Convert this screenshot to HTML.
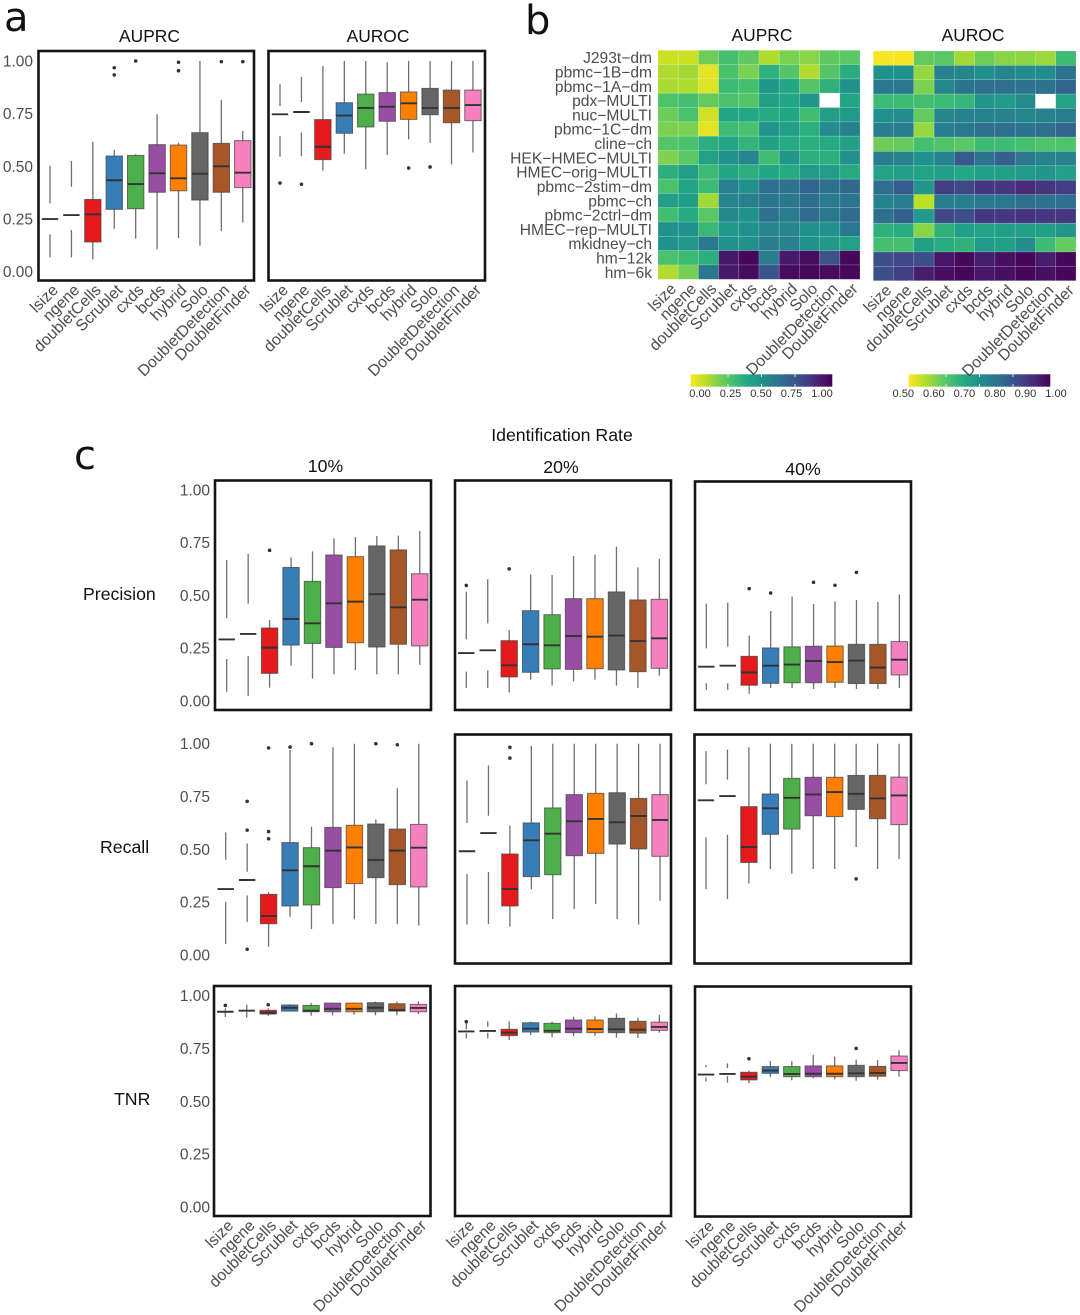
<!DOCTYPE html>
<html lang="en">
<head>
<meta charset="utf-8">
<title>Doublet detection benchmark</title>
<style>
html,body{margin:0;padding:0;background:#fff;width:1080px;height:1315px;overflow:hidden}
svg{display:block}
text{font-family:"Liberation Sans",sans-serif}
.dj{font-family:"DejaVu Sans",sans-serif}
.title{font-size:17.4px;fill:#111;text-anchor:middle}
.lab{font-size:17.7px;fill:#111}
.ytick{font-size:15.5px;fill:#4d4d4d;text-anchor:end}
.xtick{font-size:15.9px;fill:#4d4d4d;text-anchor:end}
.rowl{font-size:15.6px;fill:#4d4d4d;text-anchor:end}
.cb{font-size:11.1px;fill:#333;text-anchor:middle}
.letter{font-size:40px;fill:#111}
</style>
</head>
<body>
<svg id="figure" xmlns="http://www.w3.org/2000/svg" width="1080" height="1315" viewBox="0 0 1080 1315">
<defs>
<linearGradient id="viridisRev" x1="0" x2="1" y1="0" y2="0">
<stop offset="0" stop-color="#fde725"/><stop offset=".1" stop-color="#bddf26"/><stop offset=".2" stop-color="#7ad151"/><stop offset=".3" stop-color="#44bf70"/><stop offset=".4" stop-color="#22a884"/><stop offset=".5" stop-color="#21918c"/><stop offset=".6" stop-color="#2a788e"/><stop offset=".7" stop-color="#355f8d"/><stop offset=".8" stop-color="#414487"/><stop offset=".9" stop-color="#482475"/><stop offset="1" stop-color="#440154"/>
</linearGradient>
</defs>
<text class="letter dj" x="4" y="31">a</text>
<text class="letter dj" x="525" y="34">b</text>
<text class="letter dj" x="74" y="469">c</text>
<text class="title" x="149.5" y="42">AUPRC</text>
<text class="title" x="378" y="42">AUROC</text>
<text class="title" x="762" y="41">AUPRC</text>
<text class="title" x="973" y="41">AUROC</text>
<text class="lab" x="562" y="441" text-anchor="middle">Identification Rate</text>
<text class="lab" x="325.5" y="472" text-anchor="middle">10%</text>
<text class="lab" x="561" y="473" text-anchor="middle">20%</text>
<text class="lab" x="803" y="475" text-anchor="middle">40%</text>
<text class="lab" x="83" y="600">Precision</text>
<text class="lab" x="100" y="853">Recall</text>
<text class="lab" x="114" y="1105">TNR</text>
<rect x="690.7" y="374.3" width="141.6" height="12.4" fill="url(#viridisRev)"/>
<rect x="908.7" y="374.3" width="141.6" height="12.4" fill="url(#viridisRev)"/>
</svg>
<script>
const methods = ["lsize","ngene","doubletCells","Scrublet","cxds","bcds","hybrid","Solo","DoubletDetection","DoubletFinder"];
const methodColors = ["#ffffff","#ffffff","#e41a1c","#377eb8","#4daf4a","#984ea3","#ff7f00","#666666","#a65628","#f781bf"];
const yTicks = [0,0.25,0.5,0.75,1];
const yTickLabels = ["0.00","0.25","0.50","0.75","1.00"];

/* each row: low whisker, q1, median, q3, high whisker */
const auprcBox = [[.068,.177,.25,.324,.503],[.068,.198,.269,.403,.525],[.059,.141,.272,.343,.617],[.203,.296,.434,.549,.578],[.157,.299,.416,.552,.557],[.106,.377,.467,.603,.747],[.16,.384,.443,.601,.612],[.123,.34,.465,.66,1],[.193,.377,.5,.609,.815],[.233,.399,.47,.622,.668]];
const auprcOut = [[],[],[],[.968,.934],[1],[],[.994,.954],[],[.997],[.997]];
const aurocBox = [[.546,.644,.747,.786,.891],[.549,.661,.758,.805,.924],[.479,.532,.593,.722,.976],[.56,.657,.741,.802,1],[.486,.687,.777,.843,1],[.554,.714,.783,.85,.994],[.628,.723,.799,.853,1],[.611,.745,.777,.87,1],[.509,.707,.777,.862,1],[.566,.717,.791,.862,1]];
const aurocOut = [[.421],[.415],[],[],[],[],[.492],[.497],[],[]];
const precision10 = [[.044,.199,.292,.392,.668],[.024,.213,.318,.461,.697],[.063,.131,.253,.346,.384],[.167,.265,.389,.633,.681],[.106,.273,.368,.567,.709],[.126,.254,.463,.692,.771],[.147,.276,.471,.684,.777],[.126,.256,.506,.735,.782],[.126,.269,.444,.716,.784],[.171,.261,.48,.603,.806]];
const precision10Out = [[],[],[.714],[],[],[],[],[],[],[]];
const precision20 = [[.062,.139,.227,.292,.518],[.062,.145,.24,.368,.577],[.041,.114,.169,.286,.336],[.101,.136,.269,.428,.6],[.073,.152,.264,.409,.597],[.093,.15,.308,.485,.687],[.101,.153,.305,.485,.694],[.073,.147,.31,.517,.731],[.062,.139,.284,.479,.633],[.12,.155,.297,.482,.673]];
const precision20Out = [[.548],[],[.626],[],[],[],[],[],[],[]];
const precision40 = [[.054,.085,.164,.251,.463],[.054,.085,.169,.259,.468],[.036,.076,.137,.213,.311],[.063,.085,.169,.253,.428],[.063,.088,.174,.258,.496],[.058,.088,.191,.261,.461],[.063,.09,.186,.262,.474],[.058,.084,.193,.27,.48],[.058,.084,.16,.27,.471],[.063,.125,.197,.283,.506]];
const precision40Out = [[],[],[.534],[.513],[],[.564],[.55],[.611],[],[]];
const recall10 = [[.052,.251,.312,.451,.58],[.156,.282,.355,.394,.528],[.039,.148,.185,.287,.297],[.181,.232,.401,.532,.97],[.123,.237,.42,.508,.607],[.147,.319,.494,.604,.983],[.17,.338,.509,.614,1],[.147,.366,.45,.62,.642],[.147,.333,.494,.596,.789],[.139,.322,.508,.618,1]];
const recall10Out = [[],[.727,.591,.027],[.98,.584,.55],[.984],[1],[],[],[1],[.995],[]];
const recall20 = [[.145,.383,.491,.625,.826],[.147,.393,.577,.659,.897],[.134,.232,.312,.478,.612],[.312,.371,.543,.625,.989],[.17,.38,.574,.696,1],[.218,.47,.633,.759,1],[.241,.481,.644,.765,1],[.17,.525,.628,.768,1],[.145,.502,.658,.741,1],[.257,.467,.639,.759,1]];
const recall20Out = [[],[],[.983,.932],[],[],[],[],[],[],[]];
const recall40 = [[.312,.557,.732,.808,.965],[.265,.569,.752,.83,.972],[.338,.438,.511,.702,.983],[.407,.571,.694,.762,1],[.385,.596,.744,.836,1],[.407,.659,.76,.841,1],[.407,.655,.771,.841,1],[.511,.689,.763,.85,1],[.407,.645,.741,.85,1],[.454,.617,.755,.842,1]];
const recall40Out = [[],[],[],[],[],[],[],[.36],[],[]];
const tnr10 = [[.899,.92,.924,.929,.94],[.896,.924,.929,.932,.957],[.905,.913,.92,.931,.94],[.926,.927,.943,.956,.96],[.905,.924,.929,.954,.965],[.907,.924,.938,.965,.967],[.91,.924,.938,.965,.968],[.907,.924,.943,.967,.972],[.907,.927,.932,.962,.972],[.913,.924,.942,.959,.973]];
const tnr10Out = [[.954],[],[.957],[],[],[],[],[],[],[]];
const tnr20 = [[.798,.822,.831,.841,.869],[.798,.825,.833,.853,.879],[.79,.811,.825,.841,.879],[.814,.828,.844,.872,.877],[.803,.825,.834,.869,.877],[.808,.825,.844,.885,.901],[.809,.825,.842,.885,.902],[.801,.825,.841,.893,.916],[.8,.823,.839,.879,.896],[.825,.836,.852,.875,.909]];
const tnr20Out = [[.877],[],[],[],[],[],[],[],[],[]];
const tnr40 = [[.595,.615,.628,.662,.674],[.59,.621,.631,.659,.681],[.587,.603,.618,.639,.647],[.617,.634,.647,.666,.692],[.601,.618,.631,.666,.691],[.61,.618,.632,.669,.722],[.606,.618,.632,.669,.713],[.599,.618,.634,.672,.699],[.604,.62,.636,.667,.697],[.618,.647,.683,.716,.743]];
const tnr40Out = [[],[],[.703],[],[],[],[],[.752],[],[]];

const datasets = ["J293t\u2212dm","pbmc\u22121B\u2212dm","pbmc\u22121A\u2212dm","pdx\u2212MULTI","nuc\u2212MULTI","pbmc\u22121C\u2212dm","cline\u2212ch","HEK\u2212HMEC\u2212MULTI","HMEC\u2212orig\u2212MULTI","pbmc\u22122stim\u2212dm","pbmc\u2212ch","pbmc\u22122ctrl\u2212dm","HMEC\u2212rep\u2212MULTI","mkidney\u2212ch","hm\u221212k","hm\u22126k"];
const auprcHeat = [
[.08,.08,.22,.30,.25,.12,.2,.18,.25,.26],
[.12,.14,.04,.29,.20,.36,.27,.12,.27,.38],
[.13,.12,.05,.32,.30,.48,.41,.27,.36,.50],
[.28,.3,.24,.29,.27,.44,.41,.48,null,.41],
[.23,.29,.07,.41,.40,.39,.41,.31,.45,.46],
[.2,.2,.04,.32,.29,.49,.44,.37,.52,.57],
[.27,.29,.37,.41,.35,.43,.39,.37,.39,.43],
[.19,.26,.43,.49,.54,.31,.48,.37,.37,.5],
[.37,.45,.32,.41,.37,.41,.39,.46,.45,.39],
[.29,.41,.32,.57,.5,.64,.62,.68,.63,.66],
[.44,.44,.14,.55,.57,.61,.6,.64,.59,.61],
[.31,.39,.26,.54,.5,.63,.59,.65,.6,.65],
[.5,.5,.33,.47,.5,.54,.54,.5,.5,.6],
[.5,.47,.6,.5,.5,.58,.57,.5,.47,.43],
[.29,.32,.37,.93,.98,.58,.93,.97,.75,.98],
[.12,.21,.6,.93,.97,.74,.97,.98,.97,.98]];
const aurocHeat = [
[.505,.505,.62,.63,.57,.61,.59,.585,.575,.66],
[.75,.75,.58,.78,.77,.75,.77,.76,.76,.81],
[.8,.8,.6,.77,.81,.82,.82,.81,.81,.84],
[.66,.66,.65,.66,.67,.74,.73,.76,null,.71],
[.75,.76,.62,.77,.78,.78,.78,.77,.78,.79],
[.79,.79,.58,.79,.8,.82,.82,.81,.82,.84],
[.61,.62,.65,.64,.63,.66,.66,.65,.64,.64],
[.79,.78,.75,.78,.86,.81,.85,.8,.78,.78],
[.71,.72,.71,.72,.7,.72,.72,.73,.74,.72],
[.82,.86,.74,.91,.89,.92,.92,.94,.92,.91],
[.78,.79,.55,.79,.79,.8,.8,.82,.81,.82],
[.82,.85,.73,.89,.88,.92,.92,.93,.92,.92],
[.68,.69,.59,.68,.72,.71,.72,.72,.72,.74],
[.65,.65,.72,.69,.68,.73,.72,.76,.66,.62],
[.88,.89,.88,.97,.99,.96,.98,.99,.96,.99],
[.88,.91,.96,.98,.99,.97,.98,.99,.98,.99]];

const auprcBarLabels = ["0.00","0.25","0.50","0.75","1.00"];
const auprcBarValues = [0,0.25,0.5,0.75,1];
const aurocBarLabels = ["0.50","0.60","0.70","0.80","0.90","1.00"];
const aurocBarValues = [0.5,0.6,0.7,0.8,0.9,1];
const barTickFractions = [0.25,0.5,0.75];

const NS = "http://www.w3.org/2000/svg";
const root = document.getElementById("figure");

function mk(tag, attrs, parent) {
  const el = document.createElementNS(NS, tag);
  for (const k in attrs) el.setAttribute(k, attrs[k]);
  parent.appendChild(el);
  return el;
}

function xLabels(g, xOf, bottom) {
  methods.forEach(function (m, i) {
    const bx = xOf(i) + 9, by = bottom + 10.5;
    const t = mk("text", {class: "xtick", x: bx, y: by, transform: "rotate(-45 " + bx + " " + by + ")"}, g);
    
    
    t.textContent = m;
  });
}

function boxPanel(name, stats, outliers, o) {
  const g = mk("g", {}, root);
  
  
  const xOf = function (i) { return o.x0 + i * o.dx; };
  const yOf = function (v) { return o.y0 + (o.y1 - o.y0) * v; };
  if (o.frame) {
    const f = mk("rect", {x: o.l, y: o.t, width: o.r - o.l, height: o.b - o.t, fill: "#fff", stroke: "#141414", "stroke-width": 2.6}, g);
    
    
  }
  if (o.yAxis) {
    yTicks.forEach(function (v, i) {
      const t = mk("text", {class: "ytick", x: o.yAxis, y: yOf(v) + 5.4}, g);
      
      
      t.textContent = yTickLabels[i];
    });
  }
  const bw = 16.4;
  stats.forEach(function (s, i) {
    const cx = xOf(i), col = methodColors[i], blank = col === "#ffffff";
    const wh = mk("line", {x1: cx, x2: cx, y1: yOf(s[0]), y2: yOf(s[4]), stroke: "#707070", "stroke-width": 1.3}, g);
    
    
    const bx = mk("rect", {x: cx - bw / 2, y: yOf(s[3]), width: bw, height: yOf(s[1]) - yOf(s[3]), fill: col, stroke: blank ? "#fff" : "#444", "stroke-opacity": blank ? 1 : 0.75, "stroke-width": blank ? 0 : 1}, g);
    
    
    const md = mk("line", {x1: cx - bw / 2, x2: cx + bw / 2, y1: yOf(s[2]), y2: yOf(s[2]), stroke: "#333", "stroke-width": 1.9}, g);
    
    
    outliers[i].forEach(function (v) {
      const d = mk("circle", {cx: cx, cy: yOf(v), r: 1.8, fill: "#333"}, g);
      
      
    });
  });
  if (o.xAxis) xLabels(g, xOf, o.b);
}

const viridisStops = [[253,231,37],[189,223,38],[122,209,81],[68,191,112],[34,168,132],[33,145,140],[42,120,142],[53,95,141],[65,68,135],[72,36,117],[68,1,84]];
function viridisRev(t) {
  t = Math.max(0, Math.min(1, t));
  const s = t * 10, k = Math.min(9, Math.floor(s)), f = s - k;
  const a = viridisStops[k], b = viridisStops[k + 1];
  return "rgb(" + [0, 1, 2].map(function (c) { return Math.round(a[c] + (b[c] - a[c]) * f); }).join(",") + ")";
}

function heatPanel(name, values, lo, hi, o) {
  const g = mk("g", {}, root);
  
  
  const cw = (o.r - o.l) / methods.length, ch = (o.b - o.t) / datasets.length;
  values.forEach(function (row, r) {
    row.forEach(function (v, c) {
      const cell = mk("rect", {x: o.l + c * cw, y: o.t + r * ch, width: cw, height: ch, fill: v === null ? "#ffffff" : viridisRev((v - lo) / (hi - lo)), stroke: "#fff", "stroke-opacity": 0.22, "stroke-width": 0.7}, g);
      
      
    });
  });
  if (o.yAxis) {
    datasets.forEach(function (d, r) {
      const t = mk("text", {class: "rowl", x: o.yAxis, y: o.t + (r + .5) * ch + 5.7}, g);
      
      
      t.textContent = d;
    });
  }
  xLabels(g, function (i) { return o.l + (i + .5) * cw; }, o.b);
}

function colorbarMarks(name, labels, values, lo, hi, labelX0, labelX1, tickX0, tickW) {
  const g = mk("g", {}, root);
  
  
  barTickFractions.forEach(function (f) {
    const x = tickX0 + f * tickW;
    [[374.3, 377], [384, 386.7]].forEach(function (yy) {
      const l = mk("line", {x1: x, x2: x, y1: yy[0], y2: yy[1], stroke: "#fff", "stroke-width": 0.8}, g);
      
      
    });
  });
  labels.forEach(function (s, i) {
    const x = labelX0 + (values[i] - lo) / (hi - lo) * (labelX1 - labelX0);
    const t = mk("text", {class: "cb", x: x, y: 397}, g);
    
    
    t.textContent = s;
  });
}

boxPanel("auprc", auprcBox, auprcOut, {frame: true, l: 38.5, r: 254, t: 51, b: 280.5, x0: 50, dx: 21.42, y1: 61, y0: 271.7, yAxis: 33, xAxis: true});
boxPanel("auroc", aurocBox, aurocOut, {frame: true, l: 268.5, r: 485, t: 51, b: 280.5, x0: 280, dx: 21.44, y1: 61, y0: 271.7, xAxis: true});

heatPanel("auprc", auprcHeat, 0, 1, {l: 658, r: 860, t: 50.3, b: 279.3, yAxis: 652});
heatPanel("auroc", aurocHeat, 0.5, 1, {l: 873.3, r: 1076, t: 51, b: 280.7});
colorbarMarks("auprc", auprcBarLabels, auprcBarValues, 0, 1, 700, 822, 694.5, 134);
colorbarMarks("auroc", aurocBarLabels, aurocBarValues, 0.5, 1, 903.3, 1056, 912.5, 134);

boxPanel("precision-10", precision10, precision10Out, {frame: true, l: 215, r: 431, t: 480.5, b: 710, x0: 226.7, dx: 21.45, y1: 490, y0: 701, yAxis: 210});
boxPanel("precision-20", precision20, precision20Out, {frame: true, l: 455, r: 671, t: 480.5, b: 710, x0: 466.3, dx: 21.45, y1: 490, y0: 701});
boxPanel("precision-40", precision40, precision40Out, {frame: true, l: 695, r: 911, t: 481.5, b: 710, x0: 706.3, dx: 21.45, y1: 490.3, y0: 701.3});
boxPanel("recall-10", recall10, recall10Out, {frame: false, l: 215, r: 431, t: 734.5, b: 963.5, x0: 225.7, dx: 21.45, y1: 743.7, y0: 955, yAxis: 210});
boxPanel("recall-20", recall20, recall20Out, {frame: true, l: 455, r: 671, t: 734.5, b: 963.5, x0: 467, dx: 21.45, y1: 743.7, y0: 955});
boxPanel("recall-40", recall40, recall40Out, {frame: true, l: 694.5, r: 911, t: 734.5, b: 963.5, x0: 706, dx: 21.45, y1: 743.7, y0: 955});
boxPanel("tnr-10", tnr10, tnr10Out, {frame: true, l: 214, r: 430.5, t: 986, b: 1216, x0: 225.3, dx: 21.45, y1: 995.7, y0: 1207, yAxis: 210, xAxis: true});
boxPanel("tnr-20", tnr20, tnr20Out, {frame: true, l: 455, r: 671, t: 986, b: 1216, x0: 466.3, dx: 21.45, y1: 995.7, y0: 1207, xAxis: true});
boxPanel("tnr-40", tnr40, tnr40Out, {frame: true, l: 695, r: 911, t: 986.5, b: 1216.5, x0: 706, dx: 21.45, y1: 996, y0: 1207.3, xAxis: true});
</script>
</body>
</html>
